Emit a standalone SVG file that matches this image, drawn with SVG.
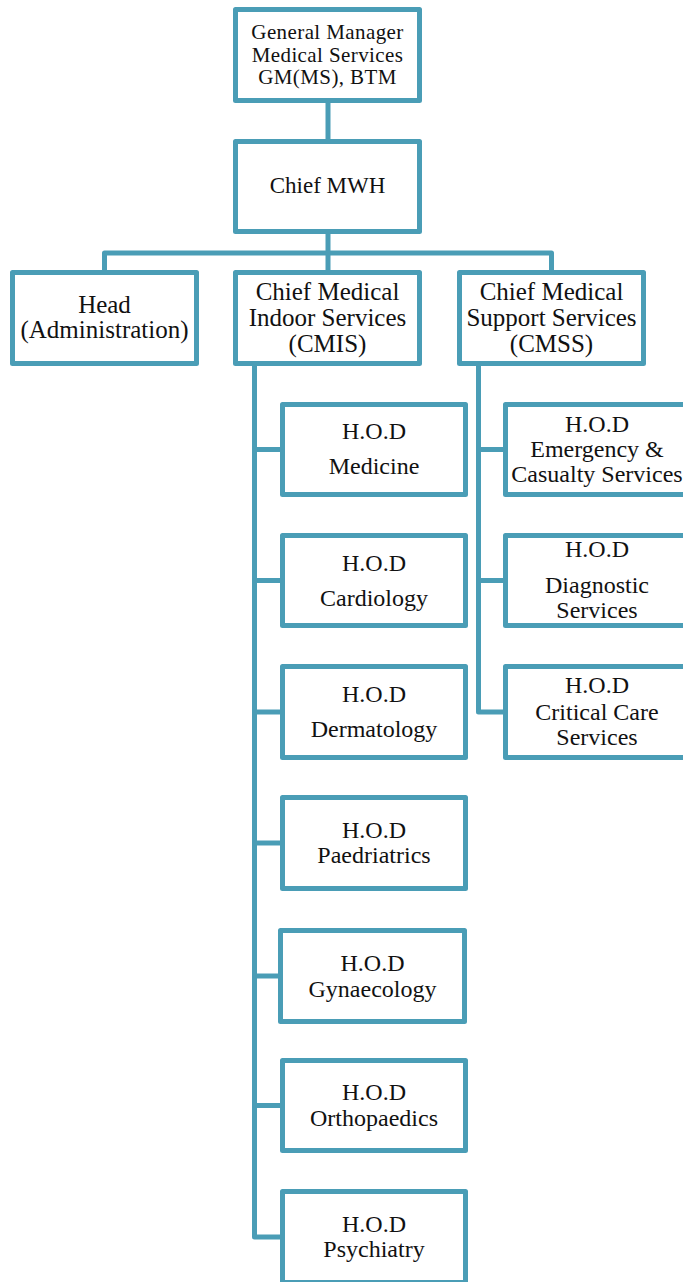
<svg xmlns="http://www.w3.org/2000/svg" width="683" height="1282" viewBox="0 0 683 1282">
<style>
.box{fill:#ffffff;stroke:#4a9db6;stroke-width:5;stroke-linejoin:round}
.con{fill:none;stroke:#4a9db6;stroke-width:5;stroke-linejoin:round;stroke-linecap:butt}
text{font-family:"Liberation Serif","Times New Roman",serif;fill:#111111;text-anchor:middle}
.t0{font-size:21px;letter-spacing:0.4px}
.t1{font-size:23px}
.t2{font-size:25px}
.t3{font-size:24px}
</style>
<rect width="683" height="1282" fill="#ffffff"/>
<g id="connectors">
<line class="con" x1="328" y1="103" x2="328" y2="139"/>
<line class="con" x1="328" y1="234" x2="328" y2="270"/>
<polyline class="con" points="104.5,270 104.5,253 551.5,253 551.5,270"/>
<polyline class="con" points="254.5,366 254.5,1237 280,1237"/>
<line class="con" x1="254.5" y1="449.5" x2="280" y2="449.5"/>
<line class="con" x1="254.5" y1="580.5" x2="280" y2="580.5"/>
<line class="con" x1="254.5" y1="712" x2="280" y2="712"/>
<line class="con" x1="254.5" y1="843" x2="280" y2="843"/>
<line class="con" x1="254.5" y1="976" x2="278" y2="976"/>
<line class="con" x1="254.5" y1="1105.5" x2="280" y2="1105.5"/>
<polyline class="con" points="478.5,366 478.5,712 503,712"/>
<line class="con" x1="478.5" y1="449.5" x2="503" y2="449.5"/>
<line class="con" x1="478.5" y1="580.5" x2="503" y2="580.5"/>
</g>
<g id="gm">
<rect class="box" x="235.5" y="9.5" width="184" height="91"/>
<text class="t0" x="327.5" y="39">General Manager</text>
<text class="t0" x="327.5" y="61.5">Medical Services</text>
<text class="t0" x="327.5" y="84">GM(MS), BTM</text>
</g>
<g id="chief-mwh">
<rect class="box" x="235.5" y="141.5" width="184" height="90"/>
<text class="t1" x="327.5" y="193">Chief MWH</text>
</g>
<g id="head-admin">
<rect class="box" x="12.5" y="272.5" width="184" height="91"/>
<text class="t2" x="104.5" y="313">Head</text>
<text class="t2" x="104.5" y="338">(Administration)</text>
</g>
<g id="cmis">
<rect class="box" x="235.5" y="272.5" width="184" height="91"/>
<text class="t2" x="327.5" y="300">Chief Medical</text>
<text class="t2" x="327.5" y="326">Indoor Services</text>
<text class="t2" x="327.5" y="352">(CMIS)</text>
</g>
<g id="cmss">
<rect class="box" x="459.5" y="272.5" width="184" height="91"/>
<text class="t2" x="551.5" y="300">Chief Medical</text>
<text class="t2" x="551.5" y="326">Support Services</text>
<text class="t2" x="551.5" y="352">(CMSS)</text>
</g>
<g id="hod-medicine">
<rect class="box" x="282.5" y="404.5" width="183" height="90"/>
<text class="t3" x="374" y="439">H.O.D</text>
<text class="t3" x="374" y="474">Medicine</text>
</g>
<g id="hod-cardiology">
<rect class="box" x="282.5" y="535.5" width="183" height="90"/>
<text class="t3" x="374" y="571">H.O.D</text>
<text class="t3" x="374" y="606">Cardiology</text>
</g>
<g id="hod-dermatology">
<rect class="box" x="282.5" y="666.5" width="183" height="91"/>
<text class="t3" x="374" y="702">H.O.D</text>
<text class="t3" x="374" y="737">Dermatology</text>
</g>
<g id="hod-paedriatrics">
<rect class="box" x="282.5" y="797.5" width="183" height="91"/>
<text class="t3" x="374" y="838">H.O.D</text>
<text class="t3" x="374" y="863">Paedriatrics</text>
</g>
<g id="hod-gynaecology">
<rect class="box" x="280.5" y="930.5" width="184" height="91"/>
<text class="t3" x="372.5" y="971">H.O.D</text>
<text class="t3" x="372.5" y="997">Gynaecology</text>
</g>
<g id="hod-orthopaedics">
<rect class="box" x="282.5" y="1060.5" width="183" height="90"/>
<text class="t3" x="374" y="1100">H.O.D</text>
<text class="t3" x="374" y="1126">Orthopaedics</text>
</g>
<g id="hod-psychiatry">
<rect class="box" x="282.5" y="1191.5" width="183" height="91"/>
<text class="t3" x="374" y="1232">H.O.D</text>
<text class="t3" x="374" y="1257">Psychiatry</text>
</g>
<g id="hod-emergency">
<rect class="box" x="505.5" y="404.5" width="183" height="90"/>
<text class="t3" x="597" y="432">H.O.D</text>
<text class="t3" x="597" y="457">Emergency &amp;</text>
<text class="t3" x="597" y="482">Casualty Services</text>
</g>
<g id="hod-diagnostic">
<rect class="box" x="505.5" y="535.5" width="183" height="90"/>
<text class="t3" x="597" y="557">H.O.D</text>
<text class="t3" x="597" y="593">Diagnostic</text>
<text class="t3" x="597" y="618">Services</text>
</g>
<g id="hod-critical">
<rect class="box" x="505.5" y="666.5" width="183" height="91"/>
<text class="t3" x="597" y="693">H.O.D</text>
<text class="t3" x="597" y="720">Critical Care</text>
<text class="t3" x="597" y="745">Services</text>
</g>
</svg>
